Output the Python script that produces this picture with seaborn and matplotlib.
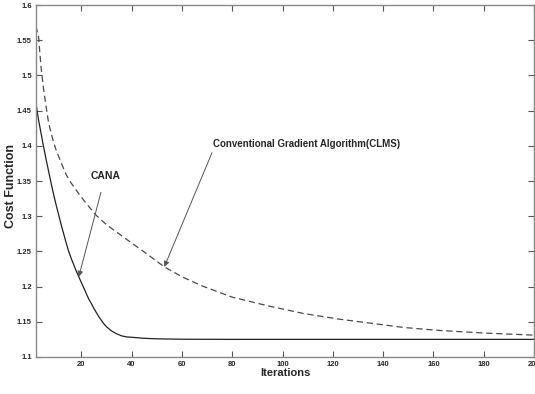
import numpy as np
import pandas as pd
import matplotlib
matplotlib.use("Agg")
import matplotlib.pyplot as plt
import seaborn as sns

# CANA (solid) curve
cana_iter = [2, 3, 4, 5, 6, 7, 8, 9, 10, 11, 12, 13, 14, 15, 16, 17, 18, 19, 20, 21, 22, 23, 24, 25, 26,
             27, 28, 29, 30, 32, 34, 36, 38, 40, 45, 50, 60, 80, 120, 160, 200]
cana_cost = [1.460, 1.437, 1.418, 1.399, 1.381, 1.364, 1.347, 1.331, 1.316, 1.302, 1.288, 1.275, 1.262,
             1.250, 1.240, 1.231, 1.222, 1.214, 1.206, 1.198, 1.190, 1.182, 1.176, 1.169, 1.163,
             1.157, 1.152, 1.147, 1.143, 1.137, 1.133, 1.130, 1.1285, 1.128, 1.1265, 1.1258, 1.1252,
             1.125, 1.125, 1.125, 1.125]

# Conventional Gradient Algorithm (CLMS) dashed curve
clms_iter = [2, 3, 4, 5, 6, 7, 8, 9, 10, 12, 14, 16, 19, 22, 26, 30, 35, 40, 47, 53, 60, 68, 80, 95,
             108, 122, 135, 148, 161, 180, 200]
clms_cost = [1.570, 1.555, 1.512, 1.481, 1.456, 1.433, 1.418, 1.405, 1.394, 1.376, 1.359, 1.347, 1.332,
             1.318, 1.301, 1.288, 1.275, 1.262, 1.244, 1.228, 1.214, 1.201, 1.185, 1.172, 1.162,
             1.154, 1.148, 1.142, 1.138, 1.134, 1.131]

x_ticks = [20, 40, 60, 80, 100, 120, 140, 160, 180, 200]
y_ticks = [1.1, 1.15, 1.2, 1.25, 1.3, 1.35, 1.4, 1.45, 1.5, 1.55, 1.6]

df = pd.concat([
    pd.DataFrame({"Iterations": cana_iter, "Cost": cana_cost, "Algorithm": "CANA"}),
    pd.DataFrame({"Iterations": clms_iter, "Cost": clms_cost, "Algorithm": "CLMS"}),
])

sns.set_theme(style="white")
narrow = ["Liberation Sans Narrow", "Liberation Sans", "DejaVu Sans"]
plt.rcParams["font.family"] = narrow

fig = plt.figure(figsize=(5.35, 3.94), dpi=100)
ax = fig.add_axes([0.0673, 0.094, 0.931, 0.893])

sns.lineplot(data=df, x="Iterations", y="Cost", hue="Algorithm", style="Algorithm",
             palette={"CANA": "#222222", "CLMS": "#4a4a4a"},
             dashes={"CANA": "", "CLMS": (5, 3)}, linewidth=0.9, legend=False, ax=ax)

ax.set_xlim(2, 200)
ax.set_ylim(1.1, 1.6)
ax.set_xticks(x_ticks)
ax.set_yticks(y_ticks)
ax.set_xticklabels([str(v) for v in x_ticks], fontsize=5.5, fontweight="bold")
ax.set_yticklabels([f"{v:g}" for v in y_ticks], fontsize=5.5, fontweight="bold")
ax.tick_params(direction="in", length=4, width=0.8, color="#555555", top=True, right=True,
               bottom=True, left=True, pad=3)
for s in ax.spines.values():
    s.set_color("#888888")
    s.set_linewidth(1.0)

ax.set_xlabel("Iterations", fontsize=8, fontweight="bold", labelpad=0)
ax.set_ylabel("Cost Function", fontsize=9, fontweight="bold", family=["Liberation Sans", "DejaVu Sans"])
ax.yaxis.set_label_coords(-0.038, 0.485)

ax.annotate("CANA", xy=(19, 1.214), xytext=(29.5, 1.357), fontsize=7.5, fontweight="bold",
            ha="center", va="center",
            arrowprops=dict(arrowstyle="-|>", color="#555555", lw=0.7, mutation_scale=8, shrinkA=6, shrinkB=0))
ax.annotate("Conventional Gradient Algorithm(CLMS)", xy=(53, 1.228), xytext=(72.5, 1.402),
            fontsize=7, fontweight="bold", ha="left", va="center",
            arrowprops=dict(arrowstyle="-|>", color="#555555", lw=0.7, mutation_scale=8,
                            shrinkA=0, shrinkB=0, relpos=(0, 0)))

fig.savefig("out.png", dpi=100)
